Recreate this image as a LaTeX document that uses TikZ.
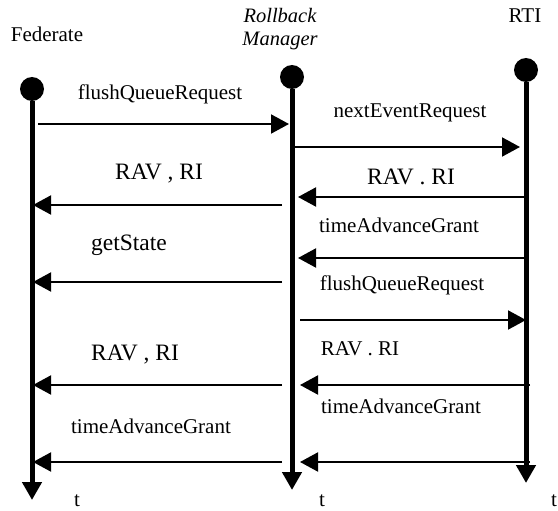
\documentclass[tikz,border=0pt]{standalone}
\usepackage{fontspec}
\setmainfont{Liberation Serif}
\usetikzlibrary{arrows.meta}

\tikzset{
  lifeline/.style={line width=5pt,-{Triangle[length=18pt,width=19pt]}},
  msg/.style={line width=2pt,-{Triangle[length=18pt,width=19pt]}},
  dot/.style={circle,fill,inner sep=0pt,minimum size=24pt},
  lbl/.style={anchor=base,inner sep=0pt,font=\fontsize{21}{25}\selectfont},
  biglbl/.style={anchor=base,inner sep=0pt,font=\fontsize{23.5}{28}\selectfont}
}

\begin{document}
\begin{tikzpicture}[x=1pt,y=-1pt]
    \useasboundingbox (0,0) rectangle (558,511);
    % participants
    \node[lbl] (fedname) at (47,42) {Federate};
    \node[lbl,align=center,font=\fontsize{20.5}{24}\selectfont\itshape] (rmname) at (280,46) {Rollback\\Manager};
    \node[lbl] (rtiname) at (525,23) {RTI};
    \node[dot] (fed) at (32,89) {};
    \node[dot] (rm) at (292,77) {};
    \node[dot] (rti) at (526,70) {};
    \draw[lifeline] (fed) -- (fed |- 0,500);
    \draw[lifeline] (rm) -- (rm |- 0,490);
    \draw[lifeline] (rti) -- (rti |- 0,483);
    \node[lbl] (fedt) at (77,506) {t};
    \node[lbl] (rmt) at (322,506) {t};
    \node[lbl] (rtit) at (554,506) {t};
    % messages: from/to/y/shorten start/shorten end
    \foreach \a/\b/\y/\s/\e in {fed/rm/124/6/3, rm/rti/147/2/6, rm/fed/205/10/1,
        rti/rm/197/-1/6, rti/rm/258/-2/6, rm/fed/282/10/1, rm/rti/320/8/0,
        rti/rm/385/-4/8, rm/fed/385/10/1, rti/rm/462/-4/8, rm/fed/462/10/1}
      \draw[msg,shorten <=\s pt,shorten >=\e pt] (\a |- 0,\y) -- (\b |- 0,\y);
    % labels
    \node[lbl] (m1) at (160,100) {flushQueueRequest};
    \node[lbl] (m2) at (410,118) {nextEventRequest};
    \node[biglbl] (m3) at (159,180) {RAV , RI};
    \node[biglbl] (m4) at (411,185) {RAV . RI};
    \node[lbl] (m5) at (399,233) {timeAdvanceGrant};
    \node[biglbl] (m6) at (129,251) {getState};
    \node[lbl] (m7) at (402,290) {flushQueueRequest};
    \node[lbl] (m8) at (360,355) {RAV . RI};
    \node[biglbl] (m9) at (135,360) {RAV , RI};
    \node[lbl] (m10) at (401,413) {timeAdvanceGrant};
    \node[lbl] (m11) at (151,433) {timeAdvanceGrant};
\end{tikzpicture}
\end{document}
